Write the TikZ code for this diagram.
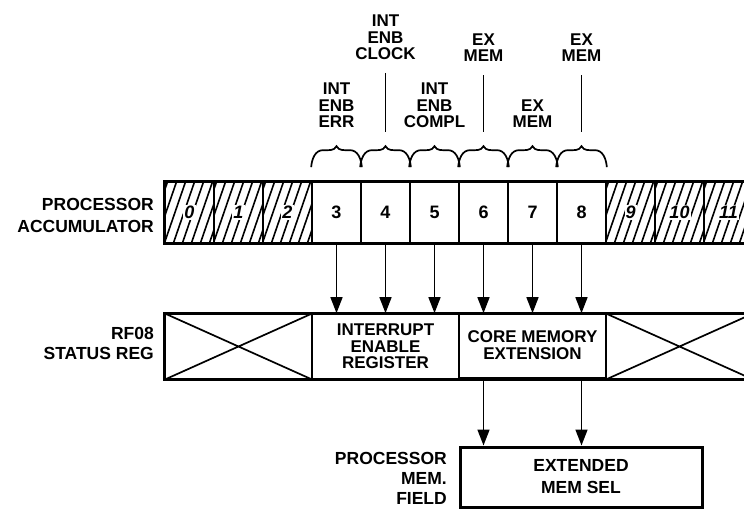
\documentclass[tikz,border=0pt]{standalone}
\usepackage{fontspec}
\setmainfont{Liberation Sans}
\usetikzlibrary{positioning, arrows.meta, calc}

\begin{document}
\begin{tikzpicture}[
    x=1pt, y=-1pt,
    font=\fontsize{17}{16.5}\selectfont\bfseries,
    cell/.style={rectangle, draw, line width=1.7pt, minimum width=49pt, minimum height=61pt, inner sep=0pt},
    sect/.style={rectangle, draw, line width=1.7pt, minimum width=147pt, minimum height=65pt, inner sep=0pt, align=center},
    lbl/.style={align=center, inner sep=0pt, anchor=south},
    side/.style={align=right, inner sep=0pt, anchor=south east},
    arr/.style={-{Triangle[length=16pt, width=12pt]}, line width=1.6pt},
    hatch/.style={line width=1.6pt},
    frame/.style={line width=3pt},
    tick/.style={line width=1.6pt, shorten <=13pt, shorten >=14pt},
    brc/.style={line width=1.7pt}
]
\useasboundingbox (0,0) rectangle (744,511);

% accumulator bits
\foreach \i in {0,...,11}
    \node[cell] (c\i) at ({165+49*(\i+0.5)},212.5) {};
\foreach \i in {0,1,2,9,10,11} {
    \begin{scope}
        \clip (c\i.south west) rectangle (c\i.north east);
        \foreach \k in {-3,...,6}
            \draw[hatch] ($(c\i.south west)+(\k*9,0)$) -- ++(21,-61);
    \end{scope}
    \node[fill=white, inner sep=1pt, font=\fontsize{18}{16}\selectfont\bfseries\itshape] at (c\i) {\i};
}
\foreach \i in {3,...,8}
    \node[font=\fontsize{18}{16}\selectfont\bfseries] at (c\i) {\i};
\draw[frame] (c0.north west) rectangle (c11.south east);

% status register
\node[sect] (xl)  at (238.5,346.5) {};
\node[sect] (ier) at (385.5,346.5) {INTERRUPT\\ENABLE\\REGISTER};
\node[sect] (cme) at (532.5,345) {CORE MEMORY\\EXTENSION};
\node[sect] (xr)  at (679.5,346.5) {};
\draw[line width=1.7pt] (xl.north west) -- (xl.south east) (xl.south west) -- (xl.north east);
\draw[line width=1.7pt] (xr.north west) -- (xr.south east) (xr.south west) -- (xr.north east);
\draw[frame] (xl.north west) rectangle (xr.south east);

% memory field
\node[rectangle, draw, frame, minimum width=242pt, minimum height=60pt, align=center,
      font=\fontsize{17.5}{22}\selectfont\bfseries] (ems) at (581,477) {EXTENDED\\MEM SEL};

\foreach \i in {3,...,8}
    \draw[arr] (c\i.south) -- (c\i.south |- ier.north);
\draw[arr] (c6 |- cme.south) -- (c6 |- ems.north);
\draw[arr] (c8 |- cme.south) -- (c8 |- ems.north);

% braces over bits 3..8
\foreach \i in {3,...,8} {
    \coordinate (t\i) at ($(c\i.north)+(0,-35)$);
    \draw[brc] ($(c\i.north west)+(0,-14)$) to[out=85, in=180] ++(12,-17)
        to[out=0, in=-115] (t\i) to[out=-65, in=180] ($(c\i.north east)+(-12,-31)$)
        to[out=0, in=95] ($(c\i.north east)+(0,-14)$);
}

% field labels
\node[lbl] (lerr) at (t3 |- 0,128) {INT\\ENB\\ERR};
\node[lbl] (lclk) at (t4 |- 0,60)  {INT\\ENB\\CLOCK};
\node[lbl] (lcpl) at (t5 |- 0,128) {INT\\ENB\\COMPL};
\node[lbl] (lex6) at (t6 |- 0,62)  {EX\\MEM};
\node[lbl] (lex7) at (t7 |- 0,128) {EX\\MEM};
\node[lbl] (lex8) at (t8 |- 0,62)  {EX\\MEM};
\draw[tick] (lclk.south) -- (t4);
\draw[tick] (lex6.south) -- (t6);
\draw[tick] (lex8.south) -- (t8);

\node[side, font=\fontsize{17.5}{22}\selectfont\bfseries] (lacc) at (154,233) {PROCESSOR\\ACCUMULATOR};
\node[side, font=\fontsize{17.5}{20}\selectfont\bfseries] (lsr)  at (154,360) {RF08\\STATUS REG};
\node[side, font=\fontsize{17.5}{20}\selectfont\bfseries] (lmf)  at (447,505) {PROCESSOR\\MEM.\\FIELD};
\end{tikzpicture}
\end{document}
